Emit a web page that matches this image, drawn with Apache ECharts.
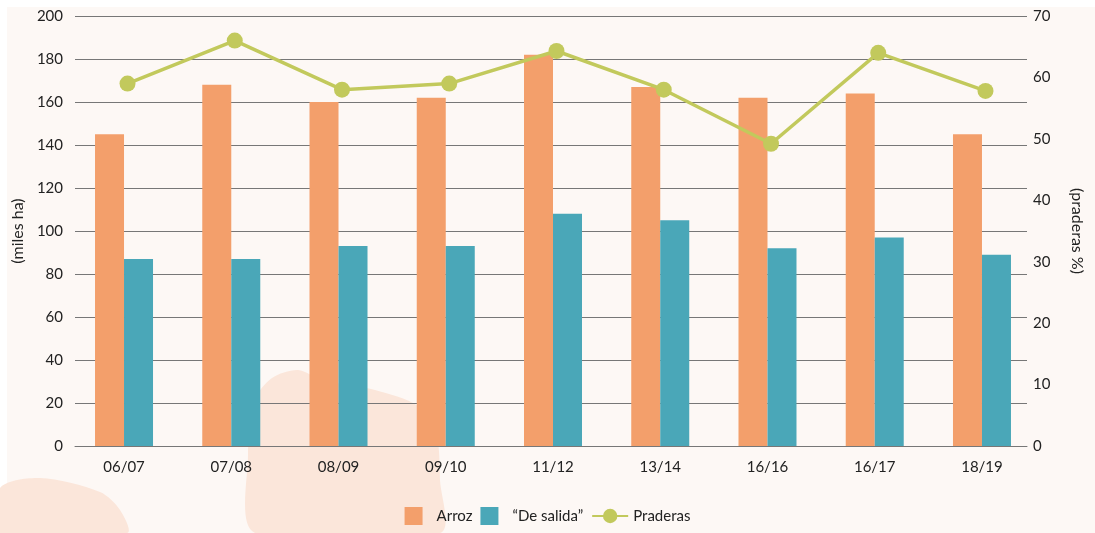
<!DOCTYPE html>
<html>
<head>
<meta charset="utf-8">
<script src="https://cdn.jsdelivr.net/npm/echarts@6/dist/echarts.min.js"></script>
<style>
  html, body { margin: 0; padding: 0; background: #ffffff; }
  #chart { width: 1095px; height: 533px; }
</style>
</head>
<body>
<div id="chart"></div>
<script>
// campañas
const categories = ['06/07', '07/08', '08/09', '09/10', '11/12', '13/14', '16/16', '16/17', '18/19'];
// miles ha
const arroz = [145, 168, 160, 162, 182, 167, 162, 164, 145];
const deSalida = [87, 87, 93, 93, 108, 105, 92, 97, 89];
// praderas %
const praderas = [59, 66, 58, 59, 64.3, 58, 49.2, 64, 57.8];

const chart = echarts.init(document.getElementById('chart'));
const font = 'Lato';
const squareIcon = 'path://M0,0h18v18h-18z';
const labelColor = '#222';

// ejes ocultos (solo escala)
const hiddenAxis = { show: false };

const option = {
  backgroundColor: '#ffffff',
  textStyle: { fontFamily: font },
  graphic: [
    // fondo crema
    { type: 'rect', z: -10, silent: true, shape: { x: 7, y: 7, width: 1088, height: 526 }, style: { fill: '#fdf8f5' } },
    // manchas decorativas
    {
      type: 'polygon', z: -9, silent: true,
      shape: { smooth: 0.3, points: [[255, 533], [248, 455], [255, 400], [272, 378], [298, 370], [322, 380], [375, 390], [418, 406], [436, 432], [440, 480], [440, 533]] },
      style: { fill: '#fbe6da' }
    },
    {
      type: 'polygon', z: -9, silent: true,
      shape: { smooth: 0.3, points: [[0, 533], [0, 488], [40, 478], [100, 492], [120, 510], [127, 533]] },
      style: { fill: '#fbe6da' }
    }
  ],
  legend: {
    bottom: 3,
    left: 'center',
    itemWidth: 36,
    itemHeight: 18,
    itemGap: 8,
    textStyle: { fontFamily: font, fontSize: 15, color: labelColor },
    data: [
      { name: 'Arroz', icon: squareIcon },
      { name: '“De salida”', icon: squareIcon },
      { name: 'Praderas' }
    ]
  },
  grid: [
    // rejilla visible y ejes con etiquetas
    { left: 75, right: 68, top: 16, bottom: 87 },
    // barras
    { left: 70.4, right: 59.4, top: 16, bottom: 87 },
    // línea
    { left: 73.9, right: 55.9, top: 16, bottom: 87 }
  ],
  xAxis: [
    {
      gridIndex: 0,
      type: 'category',
      data: categories,
      axisLine: { lineStyle: { color: '#777', width: 1 } },
      axisTick: { show: false },
      axisLabel: { show: false }
    },
    {
      gridIndex: 1,
      type: 'category',
      data: categories,
      axisLine: { show: false },
      axisTick: { show: false },
      axisLabel: { fontFamily: font, fontSize: 15, color: labelColor, margin: 14 }
    },
    { gridIndex: 2, type: 'category', data: categories, show: false }
  ],
  yAxis: [
    {
      gridIndex: 0,
      type: 'value',
      min: 0, max: 200, interval: 20,
      name: '(miles ha)',
      nameLocation: 'middle',
      nameRotate: 90,
      nameGap: 43,
      nameTextStyle: { fontFamily: font, fontSize: 16, color: labelColor },
      axisLine: { show: false },
      axisTick: { show: false },
      axisLabel: { fontFamily: font, fontSize: 15, color: labelColor, margin: 12 },
      splitLine: { lineStyle: { color: '#777', width: 1 } }
    },
    {
      gridIndex: 0,
      type: 'value',
      position: 'right',
      min: 0, max: 70, interval: 10,
      name: '(praderas %)',
      nameLocation: 'middle',
      nameRotate: -90,
      nameGap: 42,
      nameTextStyle: { fontFamily: font, fontSize: 16, color: labelColor },
      axisLine: { show: false },
      axisTick: { show: false },
      axisLabel: { fontFamily: font, fontSize: 15, color: labelColor, margin: 6 },
      splitLine: { show: false }
    },
    { gridIndex: 1, type: 'value', min: 0, max: 200, interval: 20, ...hiddenAxis },
    { gridIndex: 2, type: 'value', min: 0, max: 70, interval: 10, ...hiddenAxis }
  ],
  series: [
    {
      name: 'Arroz',
      type: 'bar',
      xAxisIndex: 1,
      yAxisIndex: 2,
      data: arroz,
      barWidth: 29,
      barGap: '0%',
      itemStyle: { color: '#f39f6b' }
    },
    {
      name: '“De salida”',
      type: 'bar',
      xAxisIndex: 1,
      yAxisIndex: 2,
      data: deSalida,
      barWidth: 29,
      barGap: '0%',
      itemStyle: { color: '#4aa7b8' }
    },
    {
      name: 'Praderas',
      type: 'line',
      xAxisIndex: 2,
      yAxisIndex: 3,
      data: praderas,
      symbol: 'circle',
      symbolSize: 16,
      lineStyle: { color: '#c2c95c', width: 3.5 },
      itemStyle: { color: '#c2c95c' }
    }
  ]
};
chart.setOption(option);
</script>
</body>
</html>
